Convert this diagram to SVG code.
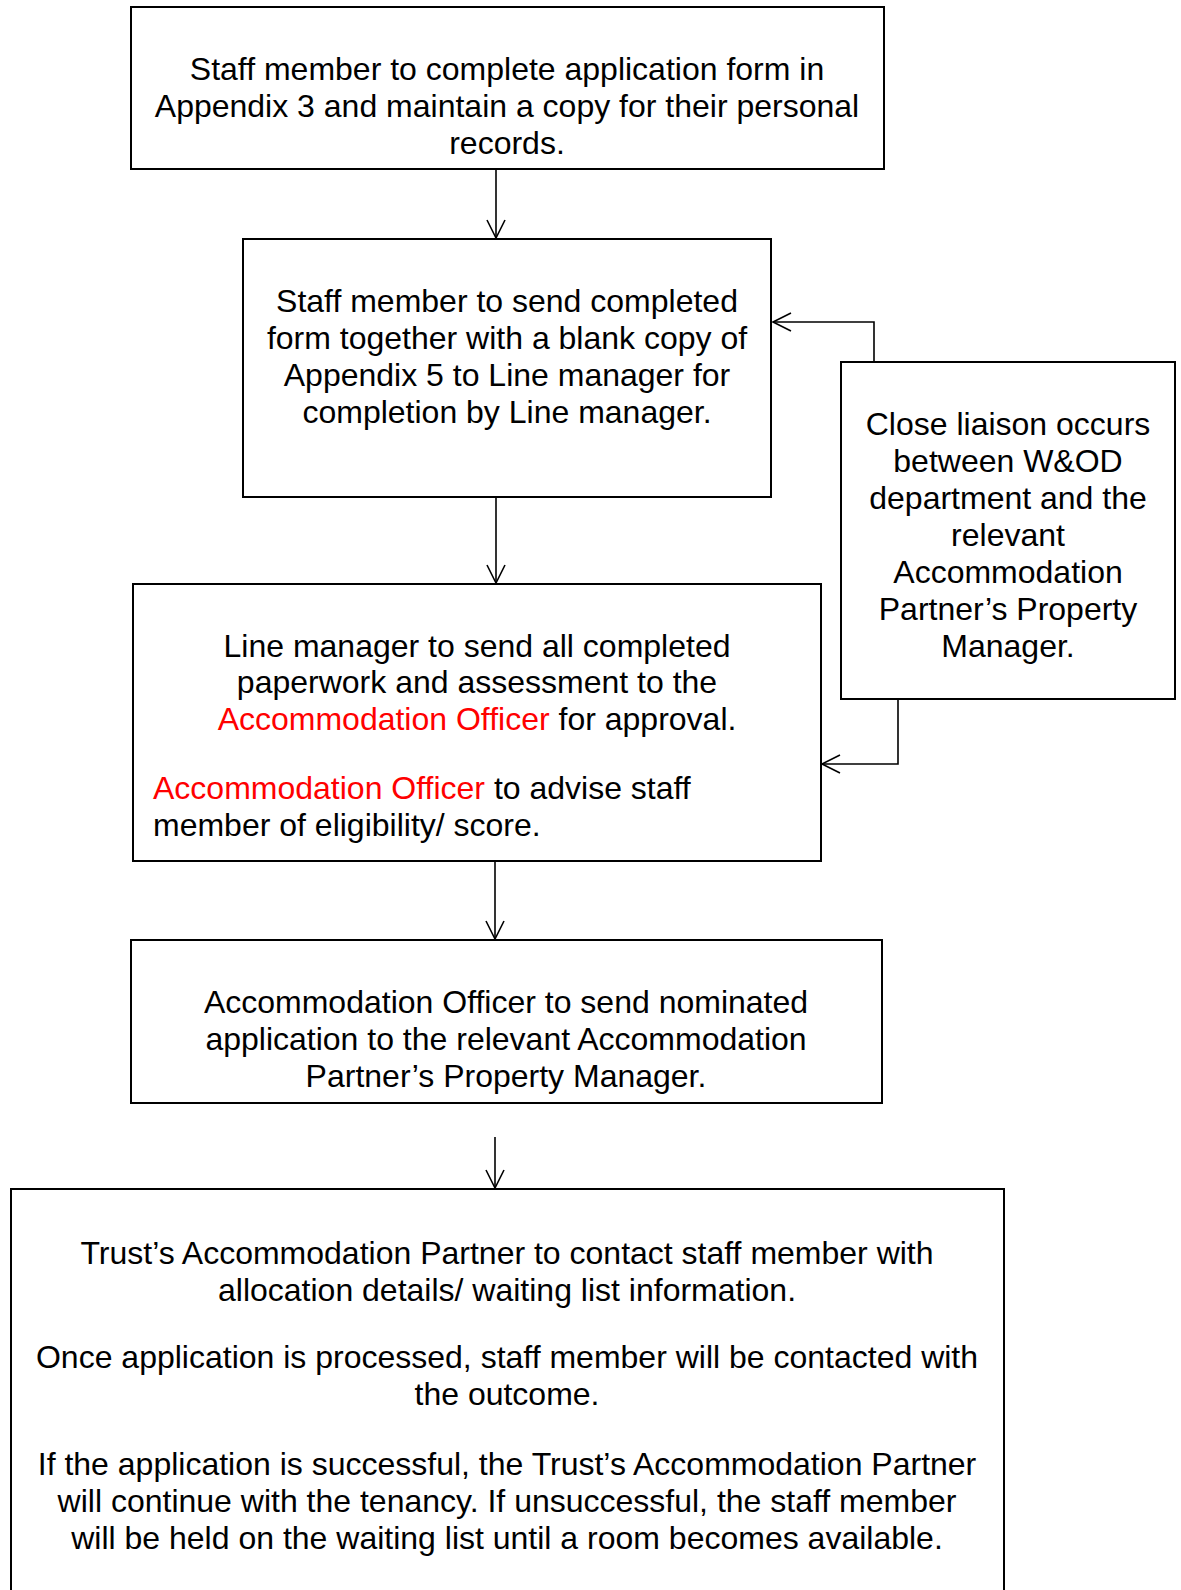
<svg xmlns="http://www.w3.org/2000/svg" width="1181" height="1590" viewBox="0 0 1181 1590">
  <style>
    .box { fill: #ffffff; stroke: #000000; stroke-width: 2; }
    .link { fill: none; stroke: #000000; stroke-width: 1.6; }
    .t { font-family: "Liberation Sans", Arial, sans-serif; font-size: 32px; fill: #000000; }
    .c { text-anchor: middle; }
    .red { fill: #ff0000; }
  </style>
  <defs>
    <marker id="arrow" viewBox="-20 -11 22 22" refX="0" refY="0" markerWidth="22" markerHeight="22" markerUnits="userSpaceOnUse" orient="auto">
      <path d="M-18,-9 L0,0 L-18,9" fill="none" stroke="#000000" stroke-width="1.6"/>
    </marker>
  </defs>

  <rect width="1181" height="1590" fill="#ffffff"/>

  <!-- connectors -->
  <g id="connectors">
    <line class="link" x1="496" y1="169" x2="496" y2="238" marker-end="url(#arrow)"/>
    <line class="link" x1="496" y1="497" x2="496" y2="583" marker-end="url(#arrow)"/>
    <line class="link" x1="495" y1="861" x2="495" y2="939" marker-end="url(#arrow)"/>
    <line class="link" x1="495" y1="1137" x2="495" y2="1188" marker-end="url(#arrow)"/>
    <polyline class="link" points="874,362 874,322 773,322" marker-end="url(#arrow)"/>
    <polyline class="link" points="898,699 898,764 822,764" marker-end="url(#arrow)"/>
  </g>

  <g id="step-apply">
    <rect class="box" x="131" y="7" width="753" height="162"/>
    <text class="t c" x="507" y="80">Staff member to complete application form in</text>
    <text class="t c" x="507" y="117">Appendix 3 and maintain a copy for their personal</text>
    <text class="t c" x="507" y="154">records.</text>
  </g>

  <g id="step-send-form">
    <rect class="box" x="243" y="239" width="528" height="258"/>
    <text class="t c" x="507" y="312">Staff member to send completed</text>
    <text class="t c" x="507" y="349">form together with a blank copy of</text>
    <text class="t c" x="507" y="386">Appendix 5 to Line manager for</text>
    <text class="t c" x="507" y="423">completion by Line manager.</text>
  </g>

  <g id="step-line-manager">
    <rect class="box" x="133" y="584" width="688" height="277"/>
    <text class="t c" x="477" y="657">Line manager to send all completed</text>
    <text class="t c" x="477" y="693">paperwork and assessment to the</text>
    <text class="t c" x="477" y="730"><tspan class="red">Accommodation Officer</tspan> for approval.</text>
    <text class="t" x="153" y="799"><tspan class="red">Accommodation Officer</tspan> to advise staff</text>
    <text class="t" x="153" y="836">member of eligibility/ score.</text>
  </g>

  <g id="liaison">
    <rect class="box" x="841" y="362" width="334" height="337"/>
    <text class="t c" x="1008" y="435">Close liaison occurs</text>
    <text class="t c" x="1008" y="472">between W&amp;OD</text>
    <text class="t c" x="1008" y="509">department and the</text>
    <text class="t c" x="1008" y="546">relevant</text>
    <text class="t c" x="1008" y="583">Accommodation</text>
    <text class="t c" x="1008" y="620">Partner’s Property</text>
    <text class="t c" x="1008" y="657">Manager.</text>
  </g>

  <g id="step-nominate">
    <rect class="box" x="131" y="940" width="751" height="163"/>
    <text class="t c" x="506" y="1013">Accommodation Officer to send nominated</text>
    <text class="t c" x="506" y="1050">application to the relevant Accommodation</text>
    <text class="t c" x="506" y="1087">Partner’s Property Manager.</text>
  </g>

  <g id="step-outcome">
    <rect class="box" x="11" y="1189" width="993" height="420"/>
    <text class="t c" x="507" y="1264">Trust’s Accommodation Partner to contact staff member with</text>
    <text class="t c" x="507" y="1301">allocation details/ waiting list information.</text>
    <text class="t c" x="507" y="1368">Once application is processed, staff member will be contacted with</text>
    <text class="t c" x="507" y="1405">the outcome.</text>
    <text class="t c" x="507" y="1475">If the application is successful, the Trust’s Accommodation Partner</text>
    <text class="t c" x="507" y="1512">will continue with the tenancy. If unsuccessful, the staff member</text>
    <text class="t c" x="507" y="1549">will be held on the waiting list until a room becomes available.</text>
  </g>
</svg>
